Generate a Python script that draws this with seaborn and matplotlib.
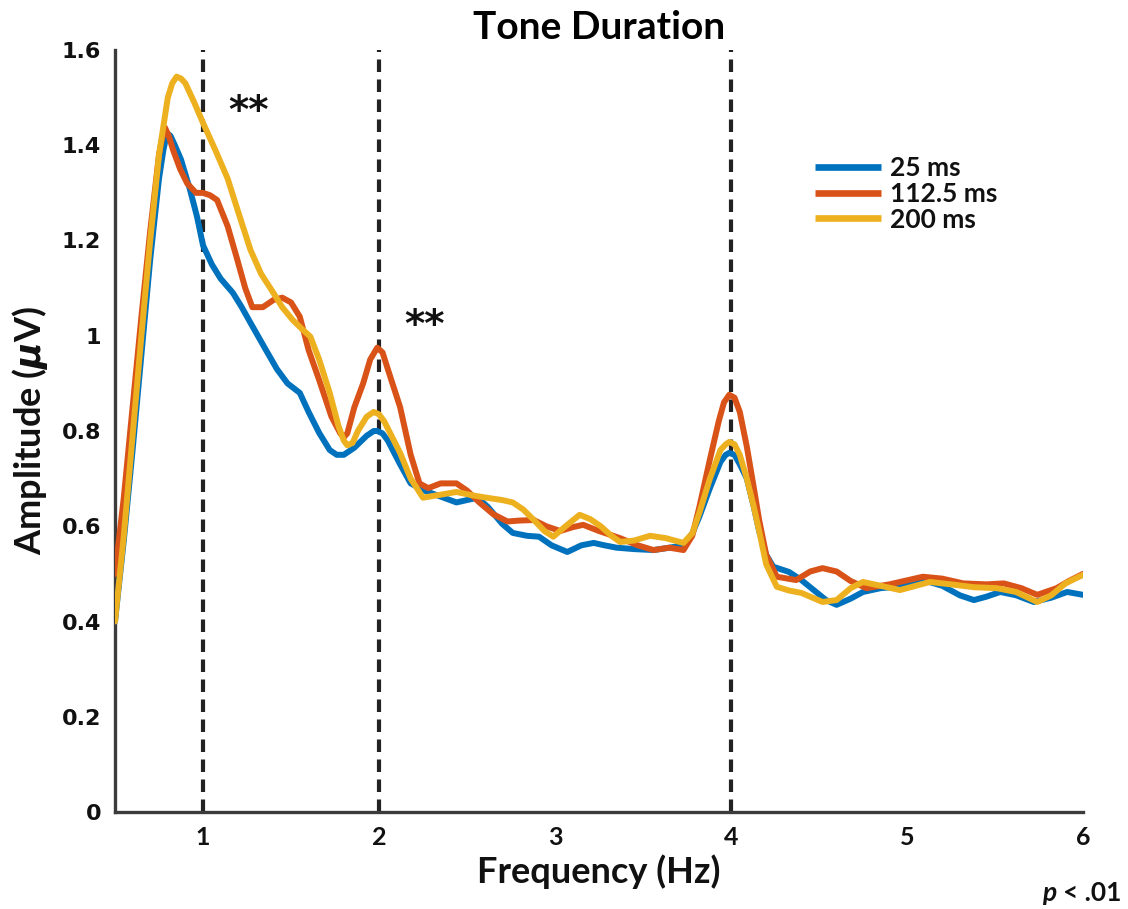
import numpy as np
import pandas as pd
import matplotlib
matplotlib.use("Agg")
import matplotlib.pyplot as plt
import seaborn as sns

# ---- data ----
conditions = ["25 ms", "112.5 ms", "200 ms"]
colors = ["#0072BD", "#D95319", "#EDB120"]

freq_25 = [0.5, 0.55, 0.6, 0.65, 0.7, 0.75, 0.775, 0.795, 0.815, 0.84, 0.875, 0.926, 0.966, 1.0,
           1.05, 1.1, 1.17, 1.22, 1.27, 1.35, 1.42, 1.48, 1.55, 1.6, 1.66, 1.72, 1.76, 1.8,
           1.86, 1.93, 1.97, 1.99, 2.02, 2.05, 2.12, 2.18, 2.25, 2.33, 2.44, 2.5, 2.56, 2.62,
           2.7, 2.76, 2.84, 2.91, 2.98, 3.07, 3.15, 3.22, 3.28, 3.35, 3.45, 3.56, 3.65, 3.73,
           3.78, 3.82, 3.88, 3.94, 3.97, 3.99, 4.02, 4.05, 4.09, 4.13, 4.16, 4.2, 4.24, 4.33,
           4.4, 4.47, 4.54, 4.6, 4.68, 4.75, 4.85, 4.94, 5.01, 5.09, 5.2, 5.3, 5.38, 5.45,
           5.53, 5.62, 5.72, 5.82, 5.91, 6.0]
amp_25 = [0.40, 0.57, 0.76, 0.96, 1.16, 1.33, 1.39, 1.425, 1.42, 1.40, 1.37, 1.307, 1.25, 1.19,
          1.15, 1.12, 1.09, 1.06, 1.027, 0.975, 0.93, 0.90, 0.88, 0.84, 0.796, 0.76, 0.75, 0.75,
          0.765, 0.79, 0.80, 0.80, 0.795, 0.78, 0.73, 0.69, 0.676, 0.665, 0.65, 0.655, 0.66, 0.64,
          0.605, 0.586, 0.58, 0.578, 0.56, 0.546, 0.56, 0.565, 0.56, 0.555, 0.552, 0.55, 0.555, 0.56,
          0.585, 0.62, 0.68, 0.735, 0.75, 0.754, 0.75, 0.73, 0.70, 0.64, 0.59, 0.54, 0.515, 0.504,
          0.487, 0.466, 0.445, 0.435, 0.448, 0.462, 0.47, 0.473, 0.48, 0.487, 0.475, 0.455, 0.445, 0.452,
          0.462, 0.455, 0.441, 0.45, 0.462, 0.456]

freq_112 = [0.5, 0.55, 0.6, 0.65, 0.7, 0.75, 0.765, 0.784, 0.805, 0.83, 0.87, 0.91, 0.96, 1.0,
            1.04, 1.08, 1.14, 1.19, 1.24, 1.28, 1.34, 1.40, 1.45, 1.50, 1.55, 1.60, 1.66, 1.73,
            1.78, 1.80, 1.82, 1.86, 1.91, 1.95, 1.99, 2.02, 2.05, 2.12, 2.18, 2.23, 2.28, 2.35,
            2.44, 2.5, 2.57, 2.65, 2.73, 2.8, 2.88, 2.95, 3.03, 3.1, 3.16, 3.25, 3.37, 3.47,
            3.56, 3.65, 3.73, 3.78, 3.82, 3.88, 3.93, 3.96, 3.99, 4.02, 4.05, 4.09, 4.13, 4.16,
            4.2, 4.26, 4.37, 4.45, 4.52, 4.6, 4.68, 4.77, 4.9, 5.09, 5.2, 5.32, 5.45, 5.55,
            5.65, 5.74, 5.85, 5.92, 6.0]
amp_112 = [0.50, 0.66, 0.85, 1.04, 1.22, 1.38, 1.41, 1.437, 1.42, 1.39, 1.35, 1.32, 1.30, 1.30,
           1.295, 1.285, 1.23, 1.166, 1.10, 1.06, 1.06, 1.075, 1.08, 1.07, 1.04, 0.97, 0.907, 0.83,
           0.795, 0.787, 0.795, 0.85, 0.90, 0.95, 0.975, 0.965, 0.93, 0.85, 0.75, 0.69, 0.68, 0.69,
           0.69, 0.675, 0.65, 0.625, 0.61, 0.612, 0.613, 0.60, 0.59, 0.598, 0.603, 0.59, 0.575, 0.56,
           0.55, 0.555, 0.55, 0.58, 0.64, 0.74, 0.82, 0.86, 0.876, 0.87, 0.84, 0.767, 0.68, 0.613,
           0.54, 0.494, 0.487, 0.505, 0.512, 0.505, 0.485, 0.47, 0.478, 0.494, 0.49, 0.48, 0.478, 0.48,
           0.47, 0.456, 0.47, 0.485, 0.50]

freq_200 = [0.5, 0.55, 0.6, 0.65, 0.7, 0.75, 0.8, 0.825, 0.85, 0.875, 0.9, 0.95, 1.0, 1.07,
            1.14, 1.2, 1.27, 1.33, 1.40, 1.45, 1.51, 1.56, 1.61, 1.66, 1.72, 1.77, 1.8, 1.82,
            1.85, 1.88, 1.93, 1.97, 2.0, 2.03, 2.12, 2.18, 2.25, 2.33, 2.44, 2.53, 2.61, 2.7,
            2.76, 2.82, 2.88, 2.94, 2.99, 3.06, 3.14, 3.2, 3.26, 3.32, 3.37, 3.45, 3.54, 3.63,
            3.73, 3.78, 3.82, 3.88, 3.94, 3.97, 3.99, 4.02, 4.05, 4.09, 4.13, 4.16, 4.2, 4.26,
            4.33, 4.4, 4.52, 4.6, 4.68, 4.75, 4.85, 4.96, 5.05, 5.13, 5.25, 5.38, 5.51, 5.62,
            5.74, 5.82, 5.9, 6.0]
amp_200 = [0.40, 0.58, 0.79, 1.0, 1.20, 1.38, 1.50, 1.53, 1.544, 1.54, 1.53, 1.49, 1.447, 1.39,
           1.33, 1.26, 1.18, 1.13, 1.09, 1.06, 1.033, 1.015, 0.998, 0.95, 0.88, 0.81, 0.78, 0.77,
           0.775, 0.80, 0.83, 0.84, 0.835, 0.82, 0.754, 0.70, 0.66, 0.665, 0.672, 0.665, 0.66, 0.655,
           0.65, 0.635, 0.613, 0.59, 0.578, 0.60, 0.624, 0.615, 0.60, 0.58, 0.567, 0.57, 0.58, 0.575,
           0.565, 0.585, 0.628, 0.70, 0.76, 0.772, 0.777, 0.772, 0.75, 0.70, 0.64, 0.59, 0.52, 0.473,
           0.465, 0.46, 0.441, 0.445, 0.47, 0.483, 0.475, 0.466, 0.475, 0.483, 0.478, 0.472, 0.47, 0.462,
           0.441, 0.455, 0.48, 0.498]

harmonics = [1, 2, 4]
y_ticks = [0, 0.2, 0.4, 0.6, 0.8, 1.0, 1.2, 1.4, 1.6]
y_tick_labels = ["0", "0.2", "0.4", "0.6", "0.8", "1", "1.2", "1.4", "1.6"]
x_ticks = [1, 2, 3, 4, 5, 6]
stars = [(1.26, 1.47, "**"), (2.26, 1.02, "**")]

# ---- build long table ----
frames = []
for cond, f, a in zip(conditions, [freq_25, freq_112, freq_200], [amp_25, amp_112, amp_200]):
    frames.append(pd.DataFrame({"Frequency": f, "Amplitude": a, "Condition": cond}))
df = pd.concat(frames, ignore_index=True)

sns.set_theme(style="white")
plt.rcParams["font.family"] = ["Lato", "DejaVu Sans"]
plt.rcParams["font.weight"] = "bold"
plt.rcParams["lines.solid_joinstyle"] = "round"
plt.rcParams["lines.solid_capstyle"] = "round"

fig = plt.figure(figsize=(11.28, 9.09), dpi=100)
ax = fig.add_axes([115 / 1128, 1 - 812 / 909, (1083 - 115) / 1128, (812 - 50) / 909])

for h in harmonics:
    ax.plot([h, h], [0, 1.6], color="#222222", lw=3.0, linestyle=(0, (3.0, 1.8)),
            solid_capstyle="butt", dash_capstyle="butt", zorder=1)

sns.lineplot(data=df, x="Frequency", y="Amplitude", hue="Condition", hue_order=conditions,
             palette=colors, estimator=None, sort=False, lw=4.3, ax=ax, zorder=3)

ax.set_xlim(0.5, 6)
ax.set_ylim(0, 1.6)
ax.set_xticks(x_ticks)
ax.set_xticklabels([str(t) for t in x_ticks], fontsize=18, fontweight="bold", color="#111111")
ax.set_yticks(y_ticks)
ax.set_yticklabels(y_tick_labels, fontsize=16, fontweight="bold", color="#111111",
                   family="DejaVu Sans")
ax.tick_params(axis="both", length=0, pad=10)

for s in ["top", "right"]:
    ax.spines[s].set_visible(False)
for s in ["left", "bottom"]:
    ax.spines[s].set_color("#3c3c3c")
    ax.spines[s].set_linewidth(2.4)

ax.set_xlabel("Frequency (Hz)", fontsize=26, fontweight="bold", labelpad=4, color="#111111")
ax.set_ylabel(r"Amplitude ($\mu$V)", fontsize=26, fontweight="bold", labelpad=8, color="#111111")
ax.set_title("Tone Duration", fontsize=28, fontweight="bold", pad=8, color="#000000")

for x, y, t in stars:
    ax.text(x, y, t, fontsize=28, fontweight="bold", ha="center", va="center",
            color="#111111", family="DejaVu Sans")

handles, labels = ax.get_legend_handles_labels()
for hdl in handles:
    hdl.set_linewidth(4.8)
    hdl.set_solid_capstyle("butt")
leg = ax.legend(handles, labels, loc="upper left", bbox_to_anchor=(0.723, 0.861),
                frameon=False, fontsize=19, handlelength=2.5, handletextpad=0.35,
                labelspacing=0.07, borderpad=0, borderaxespad=0)
for t in leg.get_texts():
    t.set_fontweight("bold")
    t.set_color("#111111")

fig.text(1056 / 1128, 1 - 893 / 909, "p", fontsize=19, fontweight="bold", style="italic",
         ha="right", va="center", color="#111111")
fig.text(1121 / 1128, 1 - 893 / 909, "< .01", fontsize=19, fontweight="bold",
         ha="right", va="center", color="#111111")

fig.savefig("out.png", dpi=100)
